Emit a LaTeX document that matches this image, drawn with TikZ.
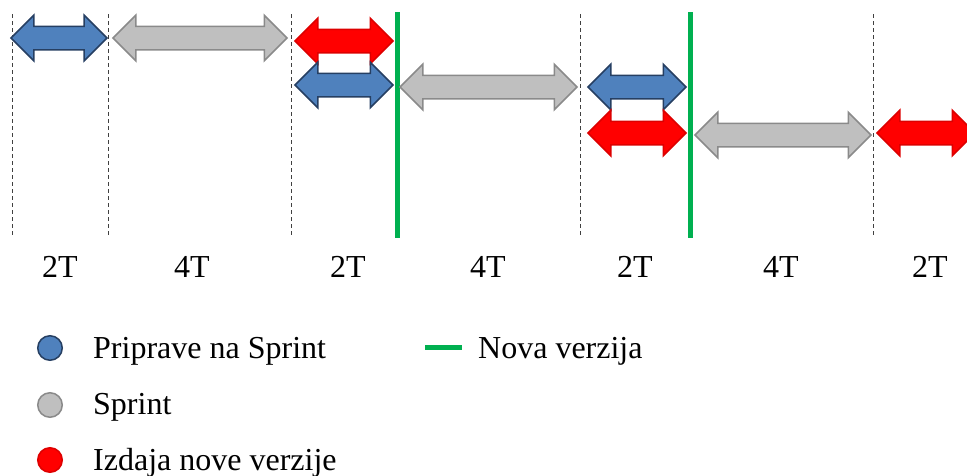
\documentclass[tikz,border=0pt]{standalone}
\usepackage{fontspec}
\setmainfont{Liberation Serif}
\usetikzlibrary{shapes.arrows,shapes.geometric,positioning}
\definecolor{prepblue}{HTML}{4F81BD}
\definecolor{prepedge}{HTML}{263F62}
\definecolor{sprintgray}{HTML}{BFBFBF}
\definecolor{sprintedge}{HTML}{8A8A8A}
\definecolor{relred}{HTML}{FF0000}
\definecolor{reledge}{HTML}{DD0000}
\definecolor{versgreen}{HTML}{00B050}
\begin{document}
\begin{tikzpicture}[x=1pt,y=-1pt,
  blok/.style={double arrow, double arrow head extend=11pt, inner xsep=0pt,
    inner ysep=11pt, line width=1.5pt},
  prep/.style={blok, fill=prepblue, draw=prepedge},
  sprint/.style={blok, fill=sprintgray, draw=sprintedge},
  izdaja/.style={blok, fill=relred, draw=reledge},
  oznaka/.style={font=\fontsize{32}{38}\selectfont, inner sep=0pt, anchor=base},
  legdot/.style={circle, minimum size=24.5pt, inner sep=0pt, line width=1.5pt},
  legtext/.style={font=\fontsize{32}{38}\selectfont, inner sep=0pt, anchor=base west}]
\useasboundingbox (0,0) rectangle (967,475);
\clip (0,0) rectangle (967,475);

% time grid
\foreach \x in {12,108,291,580,873} {
\draw [dash pattern=on 4pt off 3pt, line width=1pt, black!75] (\x,14) -- (\x,237);}
\foreach \x in {397,690} {
\draw [versgreen, line width=5pt] (\x,12) -- (\x,238);}

% first row
\node [prep, minimum height=96pt] (prep1) at (59,38) {};
\node [sprint, minimum height=174pt] (sprint1) at (200,38) {};
\node [izdaja, minimum height=98pt] (rel1) at (344,41) {};
% second row
\node [prep, minimum height=98pt] (prep2) at (344,85) {};
\node [sprint, minimum height=177pt] (sprint2) at (488.5,87) {};
\node [prep, minimum height=98pt] (prep3) at (637,87) {};
% third row
\node [izdaja, minimum height=98pt] (rel2) at (637,133) {};
\node [sprint, minimum height=176pt] (sprint3) at (783,135) {};
\node [izdaja, minimum height=98pt] (rel3) at (926,133) {};

% durations
\foreach \x/\t in {60/2T,192/4T,348/2T,488/4T,635/2T,781/4T,930/2T} {
\node [oznaka] (t\x) at (\x,277) {\t};}

% legend
\node [legdot, fill=prepblue, draw=prepedge] (dprep) at (50,348) {};
\node [legdot, fill=sprintgray, draw=sprintedge] (dsprint) at (50,405) {};
\node [legdot, fill=relred, draw=reledge] (drel) at (50,460) {};
\node [legtext] (lprep) at (93,358) {Priprave na Sprint};
\node [legtext] (lsprint) at (93,414) {Sprint};
\node [legtext] (lrel) at (93,470) {Izdaja nove verzije};
\coordinate (g1) at (425,347.5);
\coordinate (g2) at (462,347.5);
\draw [versgreen, line width=5pt] (g1) -- (g2);
\node [legtext] (lvers) at (478,358) {Nova verzija};
\end{tikzpicture}
\end{document}
